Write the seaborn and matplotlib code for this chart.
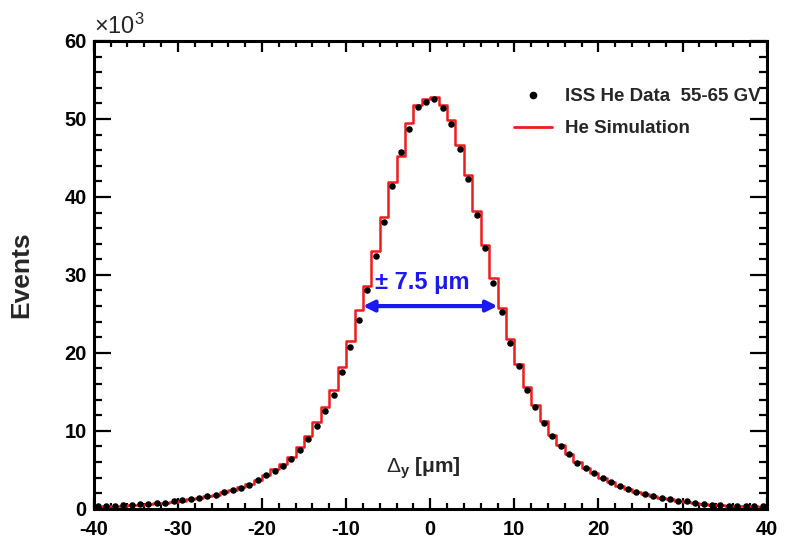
import numpy as np
import seaborn as sns
import matplotlib.pyplot as plt
from matplotlib.lines import Line2D
from matplotlib.ticker import MultipleLocator, FuncFormatter

# bin edges in micrometres, 1 um wide
bin_edges = list(range(-40, 41))
bin_centers = [e + 0.5 for e in bin_edges[:-1]]

# ISS He data, events in units of 10^3
data_events = [
    0.30, 0.32, 0.38, 0.45, 0.50, 0.58, 0.64, 0.72, 0.80, 0.95,
    1.08, 1.22, 1.40, 1.60, 1.82, 2.10, 2.40, 2.72, 3.10, 3.70,
    4.30, 4.90, 5.45, 6.35, 7.60, 8.90, 10.6, 12.5, 14.6, 17.6,
    20.7, 24.2, 28.0, 32.4, 36.8, 41.4, 45.7, 48.7, 51.5, 52.2,
    52.5, 51.4, 49.4, 46.2, 42.3, 37.7, 33.5, 29.0, 25.2, 21.3,
    18.3, 15.3, 13.1, 11.0, 9.40, 8.10, 7.00, 5.90, 5.20, 4.60,
    4.00, 3.40, 2.90, 2.50, 2.20, 1.90, 1.70, 1.45, 1.25, 1.05,
    0.95, 0.75, 0.65, 0.55, 0.45, 0.40, 0.40, 0.35, 0.35, 0.35,
]

# He simulation histogram, same binning
sim_events = [
    0.28, 0.32, 0.36, 0.42, 0.48, 0.55, 0.62, 0.70, 0.80, 0.92,
    1.05, 1.20, 1.38, 1.58, 1.82, 2.10, 2.42, 2.78, 3.20, 3.75,
    4.40, 5.10, 5.80, 6.70, 7.90, 9.30, 11.1, 13.1, 15.2, 18.2,
    21.5, 25.5, 28.6, 33.0, 37.4, 41.9, 45.3, 49.5, 51.8, 52.6,
    52.8, 51.8, 49.8, 46.6, 42.8, 38.2, 33.8, 29.6, 25.8, 21.8,
    18.6, 15.6, 13.3, 11.2, 9.50, 8.20, 7.00, 5.95, 5.20, 4.55,
    3.95, 3.40, 2.90, 2.50, 2.15, 1.88, 1.65, 1.42, 1.22, 1.05,
    0.90, 0.75, 0.65, 0.55, 0.46, 0.40, 0.36, 0.33, 0.30, 0.28,
]

sns.set_style('ticks')
plt.rcParams['font.family'] = ['Liberation Sans', 'DejaVu Sans']
plt.rcParams['mathtext.fontset'] = 'custom'
plt.rcParams['mathtext.rm'] = 'Liberation Sans'
plt.rcParams['mathtext.it'] = 'Liberation Sans'
plt.rcParams['mathtext.bf'] = 'Liberation Sans:bold'

fig = plt.figure(figsize=(7.88, 5.39), dpi=100)
ax = fig.add_axes([0.119, 0.056, 0.854, 0.868])

sns.histplot(x=bin_centers, weights=sim_events, bins=bin_edges, element='step',
             fill=False, color='#ee1c1c', linewidth=1.8, ax=ax, zorder=2)
sns.scatterplot(x=bin_centers, y=data_events, color='black', s=22,
                edgecolor='black', linewidth=0, ax=ax, zorder=3)

ax.set_xlim(-40, 40)
ax.set_ylim(0, 60)

ax.xaxis.set_major_locator(MultipleLocator(10))
ax.xaxis.set_minor_locator(MultipleLocator(2))
ax.yaxis.set_major_locator(MultipleLocator(10))
ax.yaxis.set_minor_locator(MultipleLocator(2))
ax.xaxis.set_major_formatter(FuncFormatter(lambda v, p: f'{v:.0f}'))
ax.yaxis.set_major_formatter(FuncFormatter(lambda v, p: f'{v:.0f}'))

ax.tick_params(axis='both', which='both', direction='in', top=True, right=True,
               width=1.6, labelsize=14.5, colors='black')
ax.tick_params(axis='x', which='major', length=8, pad=8)
ax.tick_params(axis='x', which='minor', length=4)
ax.tick_params(axis='y', which='major', length=12, pad=5)
ax.tick_params(axis='y', which='minor', length=6)
for lbl in ax.get_xticklabels() + ax.get_yticklabels():
    lbl.set_fontweight('bold')
for s in ax.spines.values():
    s.set_linewidth(2.2)
    s.set_color('black')
    s.set_visible(True)

ax.text(0.0, 1.005, r'$\times10^{3}$', transform=ax.transAxes, fontsize=17,
        ha='left', va='bottom')

ax.set_xlabel(r'$\Delta_{\mathbf{y}}$ [μm]', fontsize=15, fontweight='bold')
ax.xaxis.set_label_coords(0.49, 0.115)
ax.set_ylabel('Events', fontsize=19, fontweight='bold')
ax.yaxis.set_label_coords(-0.09, 0.5)

ax.annotate('', xy=(-8.0, 26.0), xytext=(8.0, 26.0),
            arrowprops=dict(arrowstyle='<|-|>', color='#1a1aee', lw=3,
                            mutation_scale=16, shrinkA=0, shrinkB=0))
ax.text(-1.0, 27.6, '± 7.5 μm', color='#1a1aee', fontsize=17, fontweight='bold',
        ha='center', va='bottom')

handles = [
    Line2D([], [], marker='o', linestyle='none', color='black', markersize=4.5),
    Line2D([], [], color='#ee1c1c', linewidth=2),
]
ax.legend(handles, ['ISS He Data  55-65 GV', 'He Simulation'], loc='upper left',
          bbox_to_anchor=(0.6, 0.935), frameon=False,
          prop={'weight': 'bold', 'size': 13.5}, handlelength=2.0,
          handletextpad=0.7, labelspacing=0.8)

fig.savefig('out.png', dpi=100)
